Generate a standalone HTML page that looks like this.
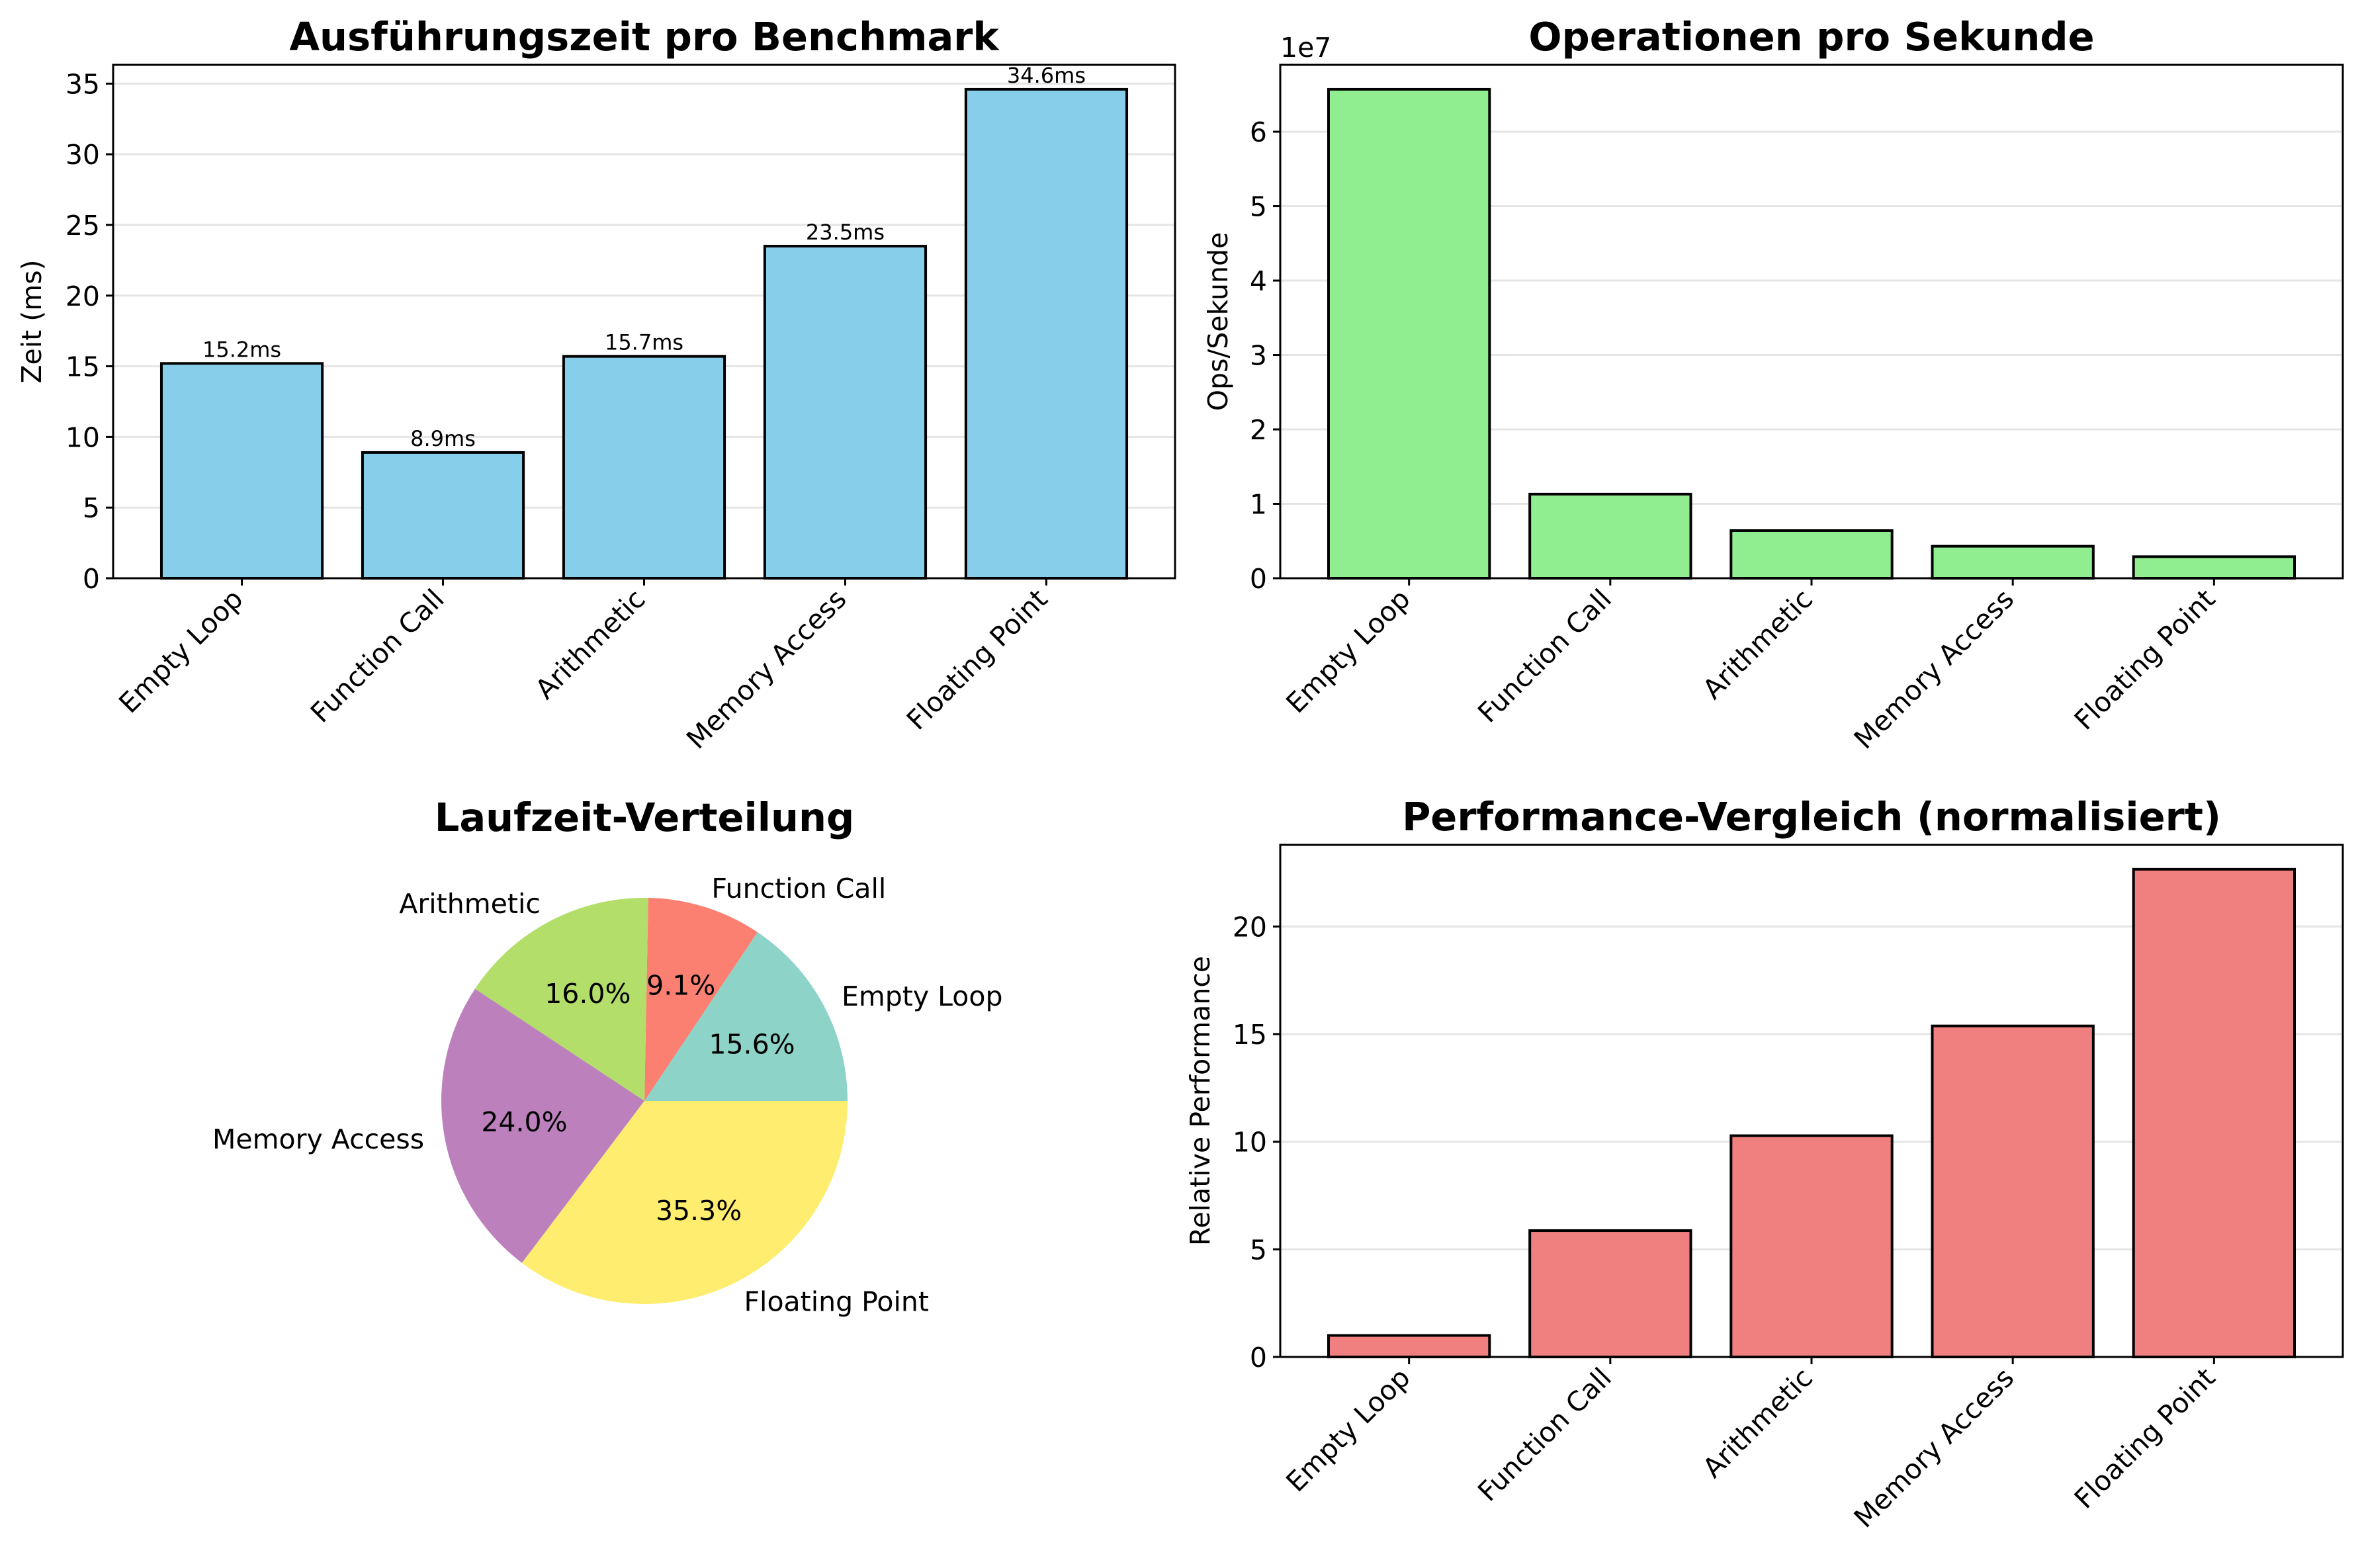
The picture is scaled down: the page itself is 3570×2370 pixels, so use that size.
<!DOCTYPE html>
<html><head><meta charset="utf-8">
<style>html,body{margin:0;padding:0;background:#fff}svg{display:block}text{font-family:"DejaVu Sans","Liberation Sans",sans-serif}</style>
</head><body>
<svg id="fig" xmlns="http://www.w3.org/2000/svg" width="3570" height="2370" viewBox="0 0 3570 2370"></svg>
<script>
const categories = ["Empty Loop","Function Call","Arithmetic","Memory Access","Floating Point"];
const timeValues = [15.2, 8.9, 15.7, 23.5, 34.6];
const timeTicks = [0,5,10,15,20,25,30,35];
const opsValues = [6.57e7, 1.13e7, 6.4e6, 4.3e6, 2.9e6];
const opsTicks = [0,1,2,3,4,5,6];
const perfValues = [1.0, 5.87, 10.28, 15.38, 22.66];
const perfTicks = [0,5,10,15,20];
const pieValues = [15.6, 9.1, 16.0, 24.0, 35.3];
const pieColors = ["#8dd3c7","#fb8072","#b3de69","#bc80bd","#ffed6f"];

const NS = "http://www.w3.org/2000/svg";
const svg = document.getElementById("fig");
function mk(tag, attrs, parent, txt){
  const e = document.createElementNS(NS, tag);
  for (const k in attrs) e.setAttribute(k, attrs[k]);
  if (txt !== undefined) e.textContent = txt;
  (parent||svg).appendChild(e);
  return e;
}
const TICK=41, TITLE=59, VAL=32;

function barChart(opt){
  const g = mk("g", {});
  
  
  const L=opt.L,R=opt.R,T=opt.T,B=opt.B;
  const n = categories.length;
  const xmin=-0.64, xmax=n-1+0.64;
  const X = v => L + (v-xmin)/(xmax-xmin)*(R-L);
  const maxv = Math.max(...opt.values)/opt.scale;
  const ymax = maxv*1.05;
  const Y = v => B - v/ymax*(B-T);
  opt.ticks.forEach(t=>{
    if (t>ymax) return;
    const gl = mk("line",{x1:L,x2:R,y1:Y(t),y2:Y(t),stroke:"#e5e5e5","stroke-width":3},g);
    
    
  });
  const bw = (X(1)-X(0))*0.8;
  opt.values.forEach((v,i)=>{
    const val = v/opt.scale;
    const r = mk("rect",{x:X(i)-bw/2,y:Y(val),width:bw,height:B-Y(val),fill:opt.color,stroke:"#000","stroke-width":4},g);
    
    
    if (opt.labels){
      const t = mk("text",{x:X(i),y:Y(val)-10,"text-anchor":"middle","font-size":VAL},g,v.toFixed(1)+"ms");
      
      
    }
  });
  const fr = mk("rect",{x:L,y:T,width:R-L,height:B-T,fill:"none",stroke:"#000","stroke-width":3},g);
  
  
  opt.ticks.forEach(t=>{
    if (t>ymax) return;
    mk("line",{x1:L-11,x2:L,y1:Y(t),y2:Y(t),stroke:"#000","stroke-width":3},g);
    const tl = mk("text",{x:L-20,y:Y(t)+15,"text-anchor":"end","font-size":TICK},g,String(t));
    
    
  });
  categories.forEach((c,i)=>{
    mk("line",{x1:X(i),x2:X(i),y1:B,y2:B+11,stroke:"#000","stroke-width":3},g);
    const tl = mk("text",{x:X(i)+4,y:B+34,"text-anchor":"end","font-size":TICK,transform:`rotate(-45 ${X(i)+4} ${B+34})`},g,c);
    
    
  });
  const tt = mk("text",{x:(L+R)/2,y:T-22,"text-anchor":"middle","font-size":TITLE,"font-weight":"bold"},g,opt.title);
  
  
  const yl = mk("text",{x:opt.ylx,y:(T+B)/2,"text-anchor":"middle","font-size":TICK,transform:`rotate(-90 ${opt.ylx} ${(T+B)/2})`},g,opt.ylabel);
  
  
  if (opt.offset){
    const o = mk("text",{x:L,y:T-12,"font-size":TICK},g,opt.offset);
    
    
  }
}

barChart({name:"execution-time-chart",L:171,R:1776,T:98,B:874,values:timeValues,scale:1,ticks:timeTicks,color:"#87ceeb",labels:true,title:"Ausführungszeit pro Benchmark",ylabel:"Zeit (ms)",ylx:62});
barChart({name:"ops-per-second-chart",L:1935,R:3541,T:98,B:874,values:opsValues,scale:1e7,ticks:opsTicks,color:"#90ee90",labels:false,title:"Operationen pro Sekunde",ylabel:"Ops/Sekunde",ylx:1855,offset:"1e7"});
barChart({name:"performance-comparison-chart",L:1935,R:3541,T:1277,B:2051,values:perfValues,scale:1,ticks:perfTicks,color:"#f08080",labels:false,title:"Performance-Vergleich (normalisiert)",ylabel:"Relative Performance",ylx:1828});

(function(){
  const g = mk("g",{});
  
  
  const cx=974, cy=1664, r=307;
  const total = pieValues.reduce((a,b)=>a+b,0);
  let a0 = 0;
  pieValues.forEach((v,i)=>{
    const a1 = a0 + v/total*2*Math.PI;
    const x0=cx+r*Math.cos(a0), y0=cy-r*Math.sin(a0);
    const x1=cx+r*Math.cos(a1), y1=cy-r*Math.sin(a1);
    const large = (a1-a0)>Math.PI?1:0;
    const p = mk("path",{d:`M${cx},${cy} L${x0},${y0} A${r},${r} 0 ${large} 0 ${x1},${y1} Z`,fill:pieColors[i]},g);
    
    
    const am=(a0+a1)/2, c=Math.cos(am), s=Math.sin(am);
    const pt = mk("text",{x:cx+0.6*r*c,y:cy-0.6*r*s+15,"text-anchor":"middle","font-size":TICK},g,(v/total*100).toFixed(1)+"%");
    
    
    const lt = mk("text",{x:cx+1.1*r*c,y:cy-1.1*r*s+15,"text-anchor":c>=0?"start":"end","font-size":TICK},g,categories[i]);
    
    
    a0=a1;
  });
  const tt = mk("text",{x:cx,y:1256,"text-anchor":"middle","font-size":TITLE,"font-weight":"bold"},g,"Laufzeit-Verteilung");
  
  
})();
</script>
</body></html>
